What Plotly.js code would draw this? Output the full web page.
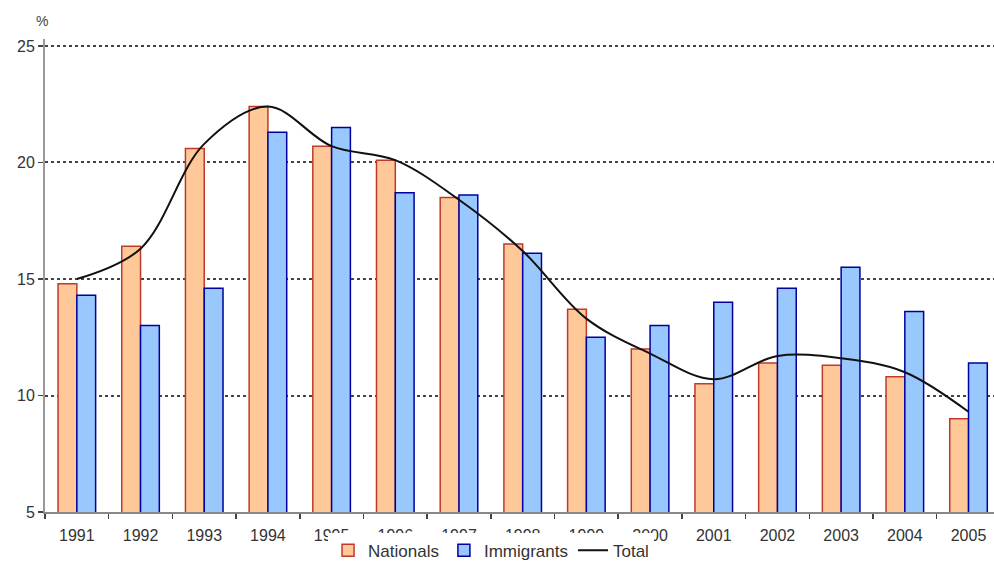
<!DOCTYPE html>
<html><head><meta charset="utf-8">
<script src="https://cdn.plot.ly/plotly-3.0.1.min.js"></script>
<style>html,body{margin:0;padding:0;overflow:hidden;background:#fff}</style>
</head><body><div id="chart" style="width:994px;height:569px"></div>
<script>
const years = ['1991','1992','1993','1994','1995','1996','1997','1998','1999','2000','2001','2002','2003','2004','2005'];
const nationals = [14.8, 16.4, 20.6, 22.4, 20.7, 20.1, 18.5, 16.5, 13.7, 12.0, 10.5, 11.4, 11.3, 10.8, 9.0];
const immigrants = [14.3, 13.0, 14.6, 21.3, 21.5, 18.7, 18.6, 16.1, 12.5, 13.0, 14.0, 14.6, 15.5, 13.6, 11.4];
const total = [15.0, 16.3, 20.8, 22.4, 20.7, 20.1, 18.4, 16.2, 13.3, 11.8, 10.7, 11.7, 11.6, 11.0, 9.3];
const yTicks = [5, 10, 15, 20, 25];

const font = {family: 'Arial, "Liberation Sans", sans-serif', size: 16, color: '#333'};

const traces = [
  {type: 'bar', name: 'Nationals', x: years, y: nationals,
   marker: {color: '#FFC898', line: {color: '#C0392B', width: 1.5}}},
  {type: 'bar', name: 'Immigrants', x: years, y: immigrants,
   marker: {color: '#99C8FF', line: {color: '#0000A0', width: 1.5}}},
  {type: 'scatter', mode: 'lines', name: 'Total', x: years, y: total,
   line: {color: '#111', width: 2, shape: 'spline', smoothing: 1}}
];

const layout = {
  width: 994, height: 569,
  margin: {l: 45, r: 0, t: 39, b: 54},
  paper_bgcolor: '#fff', plot_bgcolor: '#fff',
  font: font,
  barmode: 'group', bargap: 0.41, bargroupgap: 0,
  showlegend: true,
  legend: {orientation: 'h', x: 0.47, xanchor: 'center', y: -0.082, yanchor: 'middle',
           font: {family: font.family, size: 17, color: '#333'}, traceorder: 'normal', itemwidth: 30,
           tracegroupgap: 0},
  xaxis: {type: 'category', range: [-0.5, 14.4], showgrid: false, zeroline: false,
          showline: true, linecolor: '#888', linewidth: 1.5,
          ticks: 'outside', tickson: 'boundaries', ticklen: 5, tickcolor: '#444', tickwidth: 1.5,
          ticklabelstandoff: 8, tickfont: font},
  yaxis: {range: [5, 25.3], tickvals: yTicks, ticktext: yTicks.map(String),
          showline: true, linecolor: '#999', linewidth: 2, zeroline: false,
          ticks: 'outside', ticklen: 5, tickcolor: '#444', tickwidth: 1.5,
          showgrid: true, gridcolor: '#444', griddash: 'dot', gridwidth: 2,
          tickfont: font},
  annotations: [{text: '%', xref: 'paper', yref: 'paper', x: -0.012, y: 1.06,
                 showarrow: false, font: {family: font.family, size: 14, color: '#444'}}]
};

Plotly.newPlot('chart', traces, layout, {displayModeBar: false, staticPlot: true});
</script></body></html>
